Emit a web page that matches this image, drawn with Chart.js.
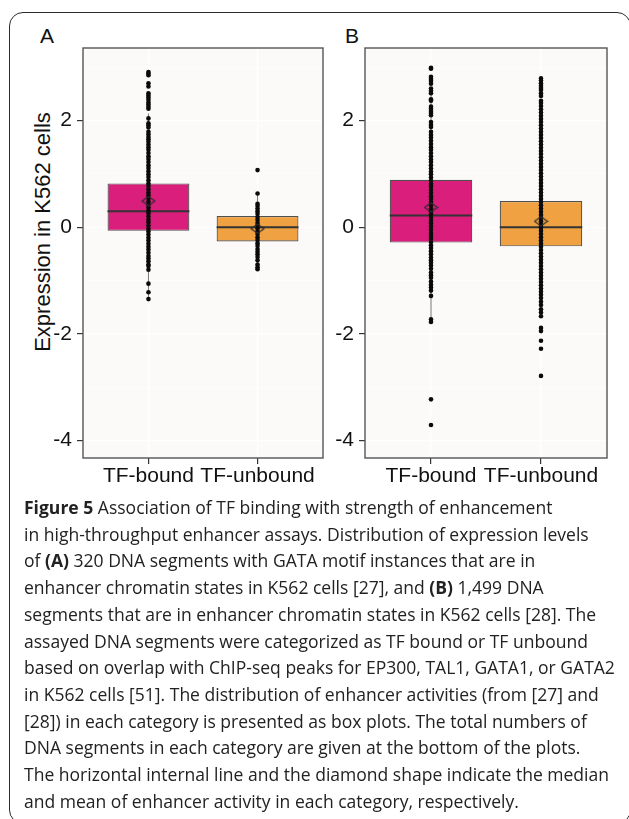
<!DOCTYPE html>
<html>
<head>
<meta charset="utf-8">
<script src="https://cdn.jsdelivr.net/npm/chart.js@4.4.1/dist/chart.umd.min.js"></script>
<style>
html, body { margin: 0; padding: 0; background: #fff; overflow: hidden; }
body { width: 629px; height: 819px; position: relative; font-family: 'Liberation Sans', Arial, sans-serif; }
#frame { position: absolute; left: 9px; top: 12px; width: 622px; height: 812px; border: 1.5px solid #2b2b2b; border-radius: 14px; box-sizing: border-box; }
.letter { position: absolute; top: 24px; font-size: 21px; line-height: 24px; color: #111; }
#ytitle { position: absolute; left: 43px; top: 232px; transform: translate(-50%, -50%) rotate(-90deg); font-size: 22px; white-space: nowrap; color: #111; }
canvas { position: absolute; }
#caption { position: absolute; left: 24px; top: 494px; display: inline-block; font-family: 'Open Sans', 'Noto Sans', sans-serif; font-size: 18px; line-height: 26.7px; color: #222; transform-origin: 0 0; white-space: nowrap; }
#caption b { font-weight: 700; }
</style>
</head>
<body>
<div id="frame"></div>
<div class="letter" style="left:40px">A</div>
<div class="letter" style="left:345px">B</div>
<div id="ytitle">Expression in K562 cells</div>
<canvas id="chartA" width="280" height="460" style="left:50px; top:40px"></canvas>
<canvas id="chartB" width="290" height="460" style="left:330px; top:40px"></canvas>
<div id="caption">
<div><b>Figure 5</b> Association of TF binding with strength of enhancement</div>
<div>in high-throughput enhancer assays. Distribution of expression levels</div>
<div>of <b>(A)</b> 320 DNA segments with GATA motif instances that are in</div>
<div>enhancer chromatin states in K562 cells [27], and <b>(B)</b> 1,499 DNA</div>
<div>segments that are in enhancer chromatin states in K562 cells [28]. The</div>
<div>assayed DNA segments were categorized as TF bound or TF unbound</div>
<div>based on overlap with ChIP-seq peaks for EP300, TAL1, GATA1, or GATA2</div>
<div>in K562 cells [51]. The distribution of enhancer activities (from [27] and</div>
<div>[28]) in each category is presented as box plots. The total numbers of</div>
<div>DNA segments in each category are given at the bottom of the plots.</div>
<div>The horizontal internal line and the diamond shape indicate the median</div>
<div>and mean of enhancer activity in each category, respectively.</div>
</div>
<script>
const categories = ['TF-bound', 'TF-unbound'];
const yTickValues = [-4, -3, -2, -1, 0, 1, 2, 3];
const yMin = -4.33, yMax = 3.36;
const boxColors = ['#DA1E7B', '#F0A242'];

// Panel A (box stats per category)
const aQ1 = [-0.07, -0.27];
const aQ3 = [0.82, 0.21];
const aMedian = [0.30, 0.00];
const aMean = [0.49, -0.03];
const aWhiskerLow = [-1.35, -0.79];
const aWhiskerHigh = [2.13, 0.63];
const aBoundPoints = [2.91, 2.88, 2.85, 2.70, 2.64, 2.51, 2.47, 2.43, 2.39, 2.34, 2.30, 2.26, 2.22, 2.04, 1.95, 1.91, 1.87,
  1.79, 1.74, 1.69, 1.65, 1.60, 1.55, 1.50, 1.45, 1.39, 1.33, 1.28, 1.22, 1.16, 1.11, 1.05, 0.99, 0.94, 0.88,
  0.82, 0.77, 0.71, 0.65, 0.60, 0.54, 0.48, 0.43, 0.37, 0.31, 0.26, 0.20, 0.14, 0.09, 0.03, -0.03, -0.08,
  -0.14, -0.20, -0.25, -0.31, -0.37, -0.42, -0.48, -0.54, -0.59, -0.64, -0.70, -0.73, -0.80, -1.06, -1.22, -1.35];
const aUnboundPoints = [1.07, 0.63, 0.44, 0.40, 0.35, 0.30, 0.25, 0.19, 0.14, 0.08, 0.03, -0.02, -0.08, -0.13,
  -0.19, -0.24, -0.30, -0.35, -0.41, -0.46, -0.51, -0.56, -0.62, -0.70, -0.75, -0.79];

// Panel B
const bQ1 = [-0.29, -0.36];
const bQ3 = [0.89, 0.49];
const bMedian = [0.22, 0.00];
const bMean = [0.37, 0.11];
const bWhiskerLow = [-1.78, -1.60];
const bWhiskerHigh = [2.60, 1.73];
const bBoundPoints = [2.99, 2.97, 2.82, 2.78, 2.74, 2.69, 2.60, 2.56, 2.51, 2.40, 2.37, 2.26, 2.22, 2.18, 2.14, 2.10,
  1.97, 1.92, 1.88, 1.79, 1.73, 1.68, 1.62, 1.56, 1.50, 1.45, 1.39, 1.33, 1.27, 1.22, 1.16, 1.10, 1.04, 0.99,
  0.93, 0.87, 0.81, 0.76, 0.70, 0.64, 0.58, 0.53, 0.47, 0.41, 0.35, 0.30, 0.24, 0.18, 0.12, 0.07, 0.01, -0.05,
  -0.11, -0.16, -0.22, -0.28, -0.34, -0.39, -0.45, -0.51, -0.57, -0.62, -0.67, -0.72, -0.78, -0.85, -0.90,
  -0.95, -1.02, -1.08, -1.13, -1.19, -1.29, -1.73, -1.78, -3.23, -3.71];
const bUnboundPoints = [2.79, 2.75, 2.70, 2.65, 2.61, 2.57, 2.51, 2.46, 2.37, 2.33, 2.27, 2.21, 2.15, 2.09, 2.03,
  1.97, 1.91, 1.85, 1.79, 1.73, 1.67, 1.61, 1.55, 1.49, 1.43, 1.37, 1.31, 1.25, 1.19, 1.13, 1.07, 1.01, 0.95,
  0.89, 0.83, 0.77, 0.71, 0.65, 0.59, 0.53, 0.47, 0.41, 0.35, 0.29, 0.23, 0.17, 0.11, 0.05, -0.01, -0.07,
  -0.13, -0.19, -0.25, -0.31, -0.37, -0.43, -0.49, -0.55, -0.61, -0.67, -0.73, -0.79, -0.85, -0.91, -0.97,
  -1.03, -1.09, -1.15, -1.21, -1.27, -1.33, -1.40, -1.46, -1.54, -1.60, -1.67, -1.89, -1.95, -2.13, -2.28, -2.79];

Chart.defaults.font.family = "'Liberation Sans', Arial, sans-serif";

// flat diamond used for the mean
const diamond = document.createElement('canvas');
diamond.width = 15; diamond.height = 11;
(function () {
  const g = diamond.getContext('2d');
  g.strokeStyle = '#2e2e2e'; g.lineWidth = 1.2;
  g.beginPath(); g.moveTo(1, 5.5); g.lineTo(7.5, 1); g.lineTo(14, 5.5); g.lineTo(7.5, 10); g.closePath();
  g.stroke();
})();

// panel background + border
const panelFrame = {
  id: 'panelFrame',
  beforeDraw(chart) {
    const {ctx, chartArea: a} = chart;
    ctx.save();
    ctx.fillStyle = '#fbfaf8';
    ctx.fillRect(a.left, a.top, a.right - a.left, a.bottom - a.top);
    ctx.restore();
  },
  afterDraw(chart) {
    const {ctx, chartArea: a} = chart;
    ctx.save();
    ctx.strokeStyle = '#555';
    ctx.lineWidth = 1.4;
    ctx.strokeRect(a.left, a.top, a.right - a.left, a.bottom - a.top);
    ctx.restore();
  }
};

function makeChart(id, q1, q3, med, mean, wLo, wHi, boundPts, unboundPts, yWidth, padRight) {
  const xs = categories.map((c, i) => i + 1);
  const box = xs.map((x, i) => ({x: x, y: [q1[i], q3[i]]}));
  const medianBars = xs.map((x, i) => ({x: x, y: [med[i] - 0.019, med[i] + 0.019]}));
  const whisker = xs.map((x, i) => ({x: x, y: [wLo[i], wHi[i]]}));
  const means = xs.map((x, i) => ({x: x, y: mean[i]}));
  const pts = boundPts.map(v => ({x: 1, y: v})).concat(unboundPts.map(v => ({x: 2, y: v})));
  const tickFont = {size: 21};

  return new Chart(document.getElementById(id), {
    type: 'bar',
    data: {
      datasets: [
        {type: 'scatter', data: means, pointStyle: diamond, pointRadius: 6, order: 0},
        {type: 'scatter', data: pts, pointRadius: 2.3, pointBackgroundColor: '#0a0a0a', pointBorderWidth: 0, order: 1},
        {data: medianBars, backgroundColor: '#333', borderWidth: 0, barPercentage: 0.75, categoryPercentage: 1, grouped: false, order: 2},
        {data: whisker, backgroundColor: '#777', maxBarThickness: 1, barPercentage: 0.75, categoryPercentage: 1, grouped: false, order: 3},
        {data: box, backgroundColor: boxColors, borderColor: '#505050', borderWidth: 1.2, borderSkipped: false,
         barPercentage: 0.75, categoryPercentage: 1, grouped: false, order: 4}
      ]
    },
    options: {
      responsive: false,
      animation: false,
      devicePixelRatio: 1,
      layout: {padding: {left: 0, right: padRight, top: 8, bottom: 0}},
      plugins: {legend: {display: false}, tooltip: {enabled: false}},
      scales: {
        x: {
          type: 'linear', min: 0.4, max: 2.6, offset: false,
          afterBuildTicks: s => { s.ticks = xs.map(v => ({value: v})); },
          afterFit: s => { s.height = 42; s.paddingLeft = 0; s.paddingRight = 0; },
          ticks: {callback: (v, i) => categories[i], font: tickFont, color: '#111', padding: 0, maxRotation: 0, autoSkip: false},
          grid: {color: '#ffffff', lineWidth: 1.2, offset: false, tickColor: '#333', tickLength: 6},
          border: {display: false}
        },
        y: {
          min: yMin, max: yMax,
          afterBuildTicks: s => { s.ticks = yTickValues.map(v => ({value: v})); },
          afterFit: s => { s.width = yWidth; s.paddingTop = 0; s.paddingBottom = 0; },
          ticks: {callback: v => (v % 2 === 0 ? String(v) : ''), font: tickFont, color: '#111', padding: 5},
          grid: {
            color: '#ffffff',
            lineWidth: c => (c.tick && c.tick.value % 2 === 0 ? 1.2 : 0.6),
            tickColor: c => (c.tick && c.tick.value % 2 === 0 ? '#333' : 'rgba(0,0,0,0)'),
            tickLength: 6
          },
          border: {display: false}
        }
      }
    },
    plugins: [panelFrame]
  });
}

makeChart('chartA', aQ1, aQ3, aMedian, aMean, aWhiskerLow, aWhiskerHigh, aBoundPoints, aUnboundPoints, 33, 6);
makeChart('chartB', bQ1, bQ3, bMedian, bMean, bWhiskerLow, bWhiskerHigh, bBoundPoints, bUnboundPoints, 35, 13);

// squeeze the caption horizontally to the width of the printed lines
const caption = document.getElementById('caption');
caption.style.transform = 'scaleX(' + (591 / caption.offsetWidth) + ')';
</script>
</body>
</html>
